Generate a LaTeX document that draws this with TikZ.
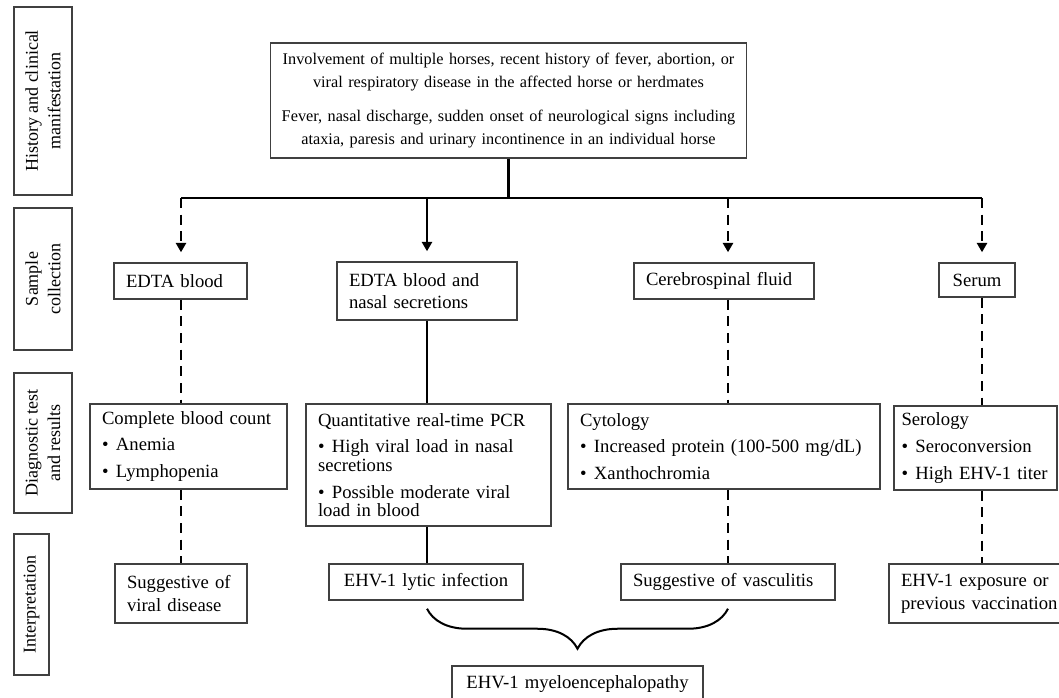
\documentclass[tikz,border=0pt]{standalone}
\usepackage{fontspec}
\setmainfont{Liberation Serif}
\usetikzlibrary{arrows.meta,decorations.pathreplacing}

\newcommand{\bul}[1]{\par\vspace{6pt}\hangindent=0.75em\hangafter=1\noindent\makebox[0.75em][l]{\textbullet}#1}

\begin{document}
\begin{tikzpicture}[x=0.75pt, y=-0.75pt,
    box/.style={draw=black!75, line width=1.1pt, inner xsep=9pt, inner ysep=0pt,
        font=\fontsize{14}{14}\selectfont},
    sidebox/.style={box, rotate=90, align=center, inner xsep=0pt,
        font=\fontsize{13.5}{17}\selectfont},
    trunk/.style={line width=2.2pt},
    link/.style={line width=1.6pt},
    dlink/.style={line width=2pt, dash pattern=on 7.5pt off 5pt},
    tip/.style={-{Triangle[length=7pt,width=7.5pt]}, shorten >=7.5pt}]
    \useasboundingbox (0,0) rectangle (1059,697);
    \clip (0,0) rectangle (1059,697);
    \fill[white] (0,0) rectangle (1059,697);

    % row labels
    \node[sidebox, minimum width=141pt, minimum height=43.5pt] (rowhist) at (43,101) {History and clinical\\ manifestation};
    \node[sidebox, minimum width=106.5pt, minimum height=43.5pt] (rowsample) at (43,279) {Sample\\ collection};
    \node[sidebox, minimum width=105pt, minimum height=43.5pt] (rowtest) at (43,443) {Diagnostic test\\ and results};
    \node[sidebox, minimum width=105.75pt, minimum height=26.25pt] (rowinterp) at (31.5,604.5) {Interpretation};

    % history
    \node[box, align=center, text width=353pt, inner xsep=2pt, minimum height=86.25pt,
        font=\fontsize{12.2}{17.25}\selectfont] (history) at (508.5,100.5)
        {Involvement of multiple horses, recent history of fever, abortion, or\\
         viral respiratory disease in the affected horse or herdmates\\[8.5pt]
         Fever, nasal discharge, sudden onset of neurological signs including\\
         ataxia, paresis and urinary incontinence in an individual horse};

    % samples
    \node[box, align=left, text width=81.75pt, minimum height=27pt] (edta) at (180.5,281) {EDTA blood};
    \node[box, align=left, text width=117pt, minimum height=43.5pt,
        font=\fontsize{14}{17}\selectfont] (edtanasal) at (427,291) {EDTA blood and\\ nasal secretions};
    \node[box, align=left, text width=117pt, minimum height=27pt] (csf) at (724,281) {Cerebrospinal fluid};
    \node[box, align=center, text width=39pt, minimum height=25.5pt] (serum) at (977,280) {Serum};

    % tests
    \node[box, align=left, text width=129.75pt, minimum height=63.75pt] (cbc) at (188.5,446.5)
        {Complete blood count\bul{Anemia}\bul{Lymphopenia}};
    \node[box, align=left, text width=165.75pt, minimum height=91.5pt] (pcr) at (428.5,465)
        {Quantitative real-time PCR\bul{High viral load in nasal\\ secretions}\bul{Possible moderate viral\\ load in blood}};
    \node[box, align=left, text width=216pt, minimum height=63.75pt] (cyto) at (724,446.5)
        {Cytology\bul{Increased protein (100-500 mg/dL)}\bul{Xanthochromia}};
    \node[box, align=left, text width=111pt, inner xsep=5.6pt, minimum height=63pt] (sero) at (975.5,448)
        {Serology\bul{Seroconversion}\bul{High EHV-1 titer}};

    % interpretation
    \node[box, align=left, text width=81pt, minimum height=44.25pt,
        font=\fontsize{14}{17}\selectfont] (viral) at (181,593.5) {Suggestive of\\ viral disease};
    \node[box, align=center, text width=127.5pt, minimum height=27pt] (lytic) at (426,582) {EHV-1 lytic infection};
    \node[box, align=left, text width=142.5pt, minimum height=27pt] (vasc) at (728,582) {Suggestive of vasculitis};
    \node[box, align=left, text width=120pt, minimum height=44.25pt,
        font=\fontsize{14}{17}\selectfont] (exposure) at (981,593.5) {EHV-1 exposure or\\ previous vaccination};
    \node[box, align=center, text width=170.25pt, minimum height=27pt] (myelo) at (577.5,684) {EHV-1 myeloencephalopathy};

    % distribution line
    \coordinate (hub) at (508.5,198);
    \coordinate (drop1) at (181,198);
    \coordinate (drop2) at (427,198);
    \coordinate (drop3) at (728,198);
    \coordinate (drop4) at (982,198);
    \draw[trunk] (history.south) -- (hub);
    \draw[trunk] (drop1) -- (drop4);

    % arrows to samples
    \draw[dlink, tip] (drop1) -- (drop1 |- edta.north);
    \draw[trunk, tip] (drop2) -- (drop2 |- edtanasal.north);
    \draw[dlink, tip] (drop3) -- (drop3 |- csf.north);
    \draw[dlink, tip] (drop4) -- (drop4 |- serum.north);

    % samples to tests
    \draw[dlink] (edta.south -| drop1) -- (drop1 |- cbc.north);
    \draw[link] (edtanasal.south -| drop2) -- (drop2 |- pcr.north);
    \draw[dlink] (csf.south -| drop3) -- (drop3 |- cyto.north);
    \draw[dlink] (serum.south -| drop4) -- (drop4 |- sero.north);

    % tests to interpretation
    \draw[dlink] (cbc.south -| drop1) -- (drop1 |- viral.north);
    \draw[link] (pcr.south -| drop2) -- (drop2 |- lytic.north);
    \draw[dlink] (cyto.south -| drop3) -- (drop3 |- vasc.north);
    \draw[dlink] (sero.south -| drop4) -- (drop4 |- exposure.north);

    % brace
    \draw[line width=1.5pt, decorate, decoration={brace, mirror, amplitude=30pt}]
        ([yshift=-6pt]lytic.south -| drop2) -- ([yshift=-6pt]lytic.south -| drop3);
\end{tikzpicture}
\end{document}
